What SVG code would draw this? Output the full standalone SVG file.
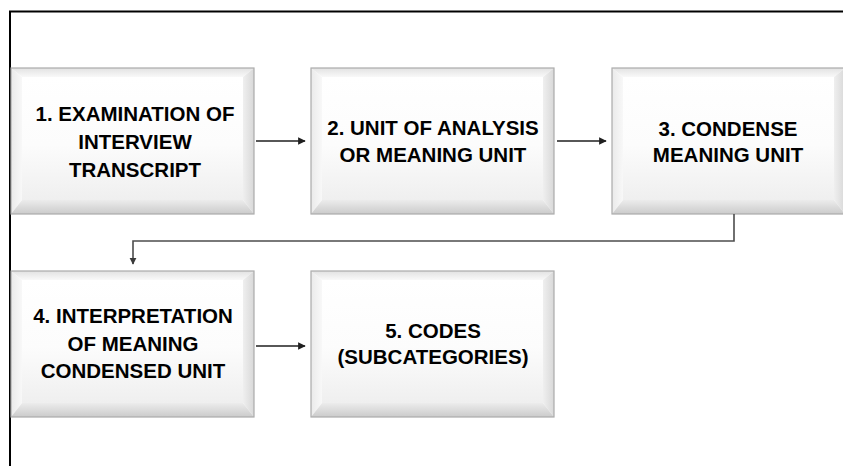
<svg xmlns="http://www.w3.org/2000/svg" xmlns:xlink="http://www.w3.org/1999/xlink" width="843" height="466" viewBox="0 0 843 466">
  <style>
    .label { font-family: "Liberation Sans", Arial, sans-serif; font-weight: bold; font-size: 20.5px; fill: #000000; text-anchor: middle; }
    .edge { fill: none; stroke: #1f1f1f; stroke-width: 1.7; }
    .elbow { fill: none; stroke: #4d4d4d; stroke-width: 1.6; }
    .rim { fill: none; stroke: #ababab; stroke-width: 1.2; }
  </style>
  <defs>
    <linearGradient id="gFace" x1="0" y1="0" x2="0" y2="1">
      <stop offset="0" stop-color="#ffffff"/>
      <stop offset="0.55" stop-color="#fcfcfc"/>
      <stop offset="1" stop-color="#efefef"/>
    </linearGradient>
    <linearGradient id="gTop" x1="0" y1="0" x2="0" y2="1">
      <stop offset="0" stop-color="#e2e2e2"/>
      <stop offset="1" stop-color="#f9f9f9"/>
    </linearGradient>
    <linearGradient id="gBottom" x1="0" y1="0" x2="0" y2="1">
      <stop offset="0" stop-color="#ececec"/>
      <stop offset="1" stop-color="#cbcbcb"/>
    </linearGradient>
    <linearGradient id="gLeft" x1="0" y1="0" x2="1" y2="0">
      <stop offset="0" stop-color="#eaeaea"/>
      <stop offset="1" stop-color="#f8f8f8"/>
    </linearGradient>
    <linearGradient id="gRight" x1="0" y1="0" x2="1" y2="0">
      <stop offset="0" stop-color="#efefef"/>
      <stop offset="1" stop-color="#d8d8d8"/>
    </linearGradient>
    <!-- bevelled panel, 243 x 146 -->
    <g id="panel">
      <rect x="11" y="9" width="221" height="123" fill="url(#gFace)"/>
      <polygon points="0,0 243,0 232,9 11,9" fill="url(#gTop)"/>
      <polygon points="0,0 11,9 11,132 0,146" fill="url(#gLeft)"/>
      <polygon points="243,0 243,146 232,132 232,9" fill="url(#gRight)"/>
      <polygon points="0,146 11,132 232,132 243,146" fill="url(#gBottom)"/>
      <rect x="0" y="0" width="243" height="146" class="rim"/>
    </g>
    <marker id="arrow" viewBox="0 0 10 10" refX="9" refY="5" markerWidth="4.5" markerHeight="4.5" orient="auto" markerUnits="strokeWidth">
      <path d="M0,0 L10,5 L0,10 Z" fill="#1f1f1f"/>
    </marker>
    <marker id="arrowGray" viewBox="0 0 10 10" refX="9" refY="5" markerWidth="4.5" markerHeight="4.5" orient="auto" markerUnits="strokeWidth">
      <path d="M0,0 L10,5 L0,10 Z" fill="#3a3a3a"/>
    </marker>
  </defs>

  <rect x="0" y="0" width="843" height="466" fill="#ffffff"/>

  <!-- outer frame (top and left edges) -->
  <path d="M10,466 V11.5 H843" fill="none" stroke="#000000" stroke-width="2"/>

  <g id="node1">
    <use xlink:href="#panel" transform="translate(11,68)"/>
    <text class="label" x="135" y="121">1. EXAMINATION OF</text>
    <text class="label" x="135" y="149">INTERVIEW</text>
    <text class="label" x="135" y="177">TRANSCRIPT</text>
  </g>

  <g id="node2">
    <use xlink:href="#panel" transform="translate(311,68)"/>
    <text class="label" x="433" y="135">2. UNIT OF ANALYSIS</text>
    <text class="label" x="433" y="162">OR MEANING UNIT</text>
  </g>

  <g id="node3">
    <rect x="623" y="77" width="211" height="123" fill="url(#gFace)"/>
    <polygon points="612,68 845,68 834,77 623,77" fill="url(#gTop)"/>
    <polygon points="612,68 623,77 623,200 612,214" fill="url(#gLeft)"/>
    <polygon points="845,68 845,214 834,200 834,77" fill="url(#gRight)"/>
    <polygon points="612,214 623,200 834,200 845,214" fill="url(#gBottom)"/>
    <rect x="612" y="68" width="233" height="146" class="rim"/>
    <text class="label" x="728" y="136">3. CONDENSE</text>
    <text class="label" x="728" y="162">MEANING UNIT</text>
  </g>

  <g id="node4">
    <use xlink:href="#panel" transform="translate(11,271)"/>
    <text class="label" x="133" y="323">4. INTERPRETATION</text>
    <text class="label" x="133" y="351">OF MEANING</text>
    <text class="label" x="133" y="378">CONDENSED UNIT</text>
  </g>

  <g id="node5">
    <use xlink:href="#panel" transform="translate(311,271)"/>
    <text class="label" x="433" y="338">5. CODES</text>
    <text class="label" x="433" y="364">(SUBCATEGORIES)</text>
  </g>

  <g id="connectors">
    <line class="edge" x1="256" y1="141" x2="305" y2="141" marker-end="url(#arrow)"/>
    <line class="edge" x1="557" y1="141" x2="606" y2="141" marker-end="url(#arrow)"/>
    <polyline class="elbow" points="734,214 734,241 133,241 133,264" marker-end="url(#arrowGray)"/>
    <line class="edge" x1="256" y1="346" x2="305" y2="346" marker-end="url(#arrow)"/>
  </g>
</svg>
